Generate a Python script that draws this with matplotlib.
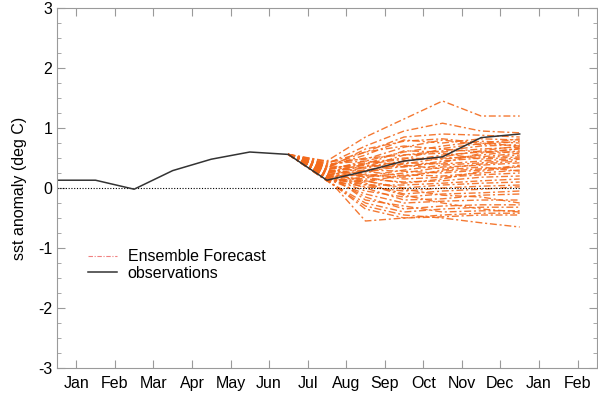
# SST anomaly: ensemble forecast members against observations

import matplotlib
matplotlib.use('Agg')
import matplotlib.pyplot as plt
from matplotlib.lines import Line2D
from matplotlib.ticker import MultipleLocator
import numpy

plt.rcParams['font.family'] = ['Liberation Sans', 'DejaVu Sans']
plt.rcParams['axes.unicode_minus'] = False

month_labels = ['Jan', 'Feb', 'Mar', 'Apr', 'May', 'Jun', 'Jul',
                'Aug', 'Sep', 'Oct', 'Nov', 'Dec', 'Jan', 'Feb']

# observations at the month boundaries 0..12
obs_months = numpy.arange(13)
observations = [0.13, 0.13, -0.02, 0.29, 0.48, 0.60, 0.56,
                0.13, 0.28, 0.45, 0.52, 0.84, 0.90]

# forecast members start from the last observation (month 6)
forecast_months = numpy.arange(6, 13)
forecast_start = 0.56
members = [
    [0.45, 0.85, 1.15, 1.45, 1.20, 1.20],
    [0.40, 0.70, 0.95, 1.08, 0.95, 0.92],
    [0.42, 0.60, 0.85, 0.90, 0.88, 0.85],
    [0.35, 0.55, 0.80, 0.75, 0.82, 0.80],
    [0.30, 0.45, 0.60, 0.70, 0.78, 0.75],
    [0.38, 0.50, 0.55, 0.62, 0.70, 0.72],
    [0.25, 0.40, 0.62, 0.60, 0.65, 0.68],
    [0.20, 0.35, 0.45, 0.55, 0.60, 0.65],
    [0.32, 0.42, 0.50, 0.48, 0.55, 0.62],
    [0.15, 0.30, 0.40, 0.50, 0.52, 0.58],
    [0.28, 0.38, 0.35, 0.45, 0.50, 0.55],
    [0.18, 0.25, 0.42, 0.40, 0.45, 0.50],
    [0.22, 0.20, 0.30, 0.38, 0.42, 0.48],
    [0.40, 0.45, 0.38, 0.32, 0.40, 0.45],
    [0.12, 0.18, 0.25, 0.35, 0.38, 0.42],
    [0.26, 0.30, 0.28, 0.25, 0.30, 0.38],
    [0.35, 0.28, 0.20, 0.28, 0.32, 0.35],
    [0.14, 0.10, 0.22, 0.20, 0.25, 0.30],
    [0.30, 0.22, 0.15, 0.18, 0.22, 0.25],
    [0.20, 0.15, 0.10, 0.12, 0.18, 0.20],
    [0.16, 0.05, 0.05, 0.08, 0.12, 0.15],
    [0.24, 0.12, 0.00, 0.05, 0.08, 0.10],
    [0.13, 0.02, -0.05, 0.00, 0.03, 0.05],
    [0.28, 0.08, -0.10, -0.05, -0.02, 0.02],
    [0.18, -0.05, -0.15, -0.10, -0.08, -0.05],
    [0.22, 0.00, -0.20, -0.18, -0.12, -0.10],
    [0.15, -0.10, -0.25, -0.22, -0.20, -0.20],
    [0.20, -0.15, -0.35, -0.30, -0.28, -0.28],
    [0.12, -0.25, -0.40, -0.35, -0.32, -0.32],
    [0.25, -0.20, -0.30, -0.40, -0.38, -0.38],
    [0.14, -0.35, -0.50, -0.45, -0.42, -0.42],
    [0.17, -0.55, -0.50, -0.48, -0.45, -0.45],
    [0.12, -0.30, -0.45, -0.50, -0.58, -0.65],
    [0.33, 0.65, 0.78, 0.82, 0.75, 0.70],
    [0.36, 0.60, 0.70, 0.65, 0.60, 0.60],
    [0.27, 0.35, 0.55, 0.58, 0.48, 0.52],
    [0.44, 0.48, 0.68, 0.80, 0.72, 0.78],
    [0.31, 0.40, 0.48, 0.66, 0.74, 0.82],
    [0.23, 0.28, 0.36, 0.42, 0.58, 0.66],
    [0.37, 0.33, 0.45, 0.52, 0.62, 0.70],
    [0.19, 0.22, 0.18, 0.30, 0.35, 0.28],
    [0.29, 0.18, 0.08, 0.15, 0.28, 0.36],
    [0.16, 0.12, -0.02, -0.12, -0.15, -0.25],
    [0.21, 0.06, -0.12, -0.25, -0.35, -0.40],
]

orange = '#f36a1c'
grey = '#9a9a9a'

fig = plt.figure(figsize=(5.98, 3.93), dpi=100)
ax = fig.add_axes([0.0953, 0.0636, 0.9027, 0.916])

for m in members:
    ax.plot(forecast_months, [forecast_start] + m, color=orange, lw=1.0,
            linestyle=(0, (5, 2, 1.5, 2)), alpha=0.9)

ax.plot([0, 12], [0, 0], color='black', lw=0.8, linestyle=(0, (1, 1.5)))
ax.plot(obs_months, observations, color='#333333', lw=1.1)

ax.set_xlim(0, 14)
ax.set_ylim(-3, 3)
ax.set_xticks(numpy.arange(14) + 0.5)
ax.set_xticklabels(month_labels)
ax.yaxis.set_major_locator(MultipleLocator(1))
ax.yaxis.set_minor_locator(MultipleLocator(0.25))
ax.tick_params(axis='both', which='both', direction='in', color=grey,
               top=True, right=True, labelsize=11.5)
ax.tick_params(axis='both', which='major', length=6)
ax.tick_params(axis='both', which='minor', length=3)
ax.tick_params(axis='x', pad=6)
for s in ax.spines.values():
    s.set_color(grey)
    s.set_linewidth(0.8)
ax.set_ylabel('sst anomaly (deg C)', fontsize=11.5, labelpad=8)

handles = [Line2D([], [], color='#f08080', lw=0.8, linestyle=(0, (4, 1.5, 1, 1.5))),
           Line2D([], [], color='#333333', lw=1.1)]
ax.legend(handles, ['Ensemble Forecast', 'observations'], loc='upper left',
          bbox_to_anchor=(0.057, 0.33), frameon=False, fontsize=11.5,
          borderpad=0, borderaxespad=0, handlelength=1.8, handletextpad=0.7,
          labelspacing=0.1)

fig.savefig('out.png', dpi=100)
